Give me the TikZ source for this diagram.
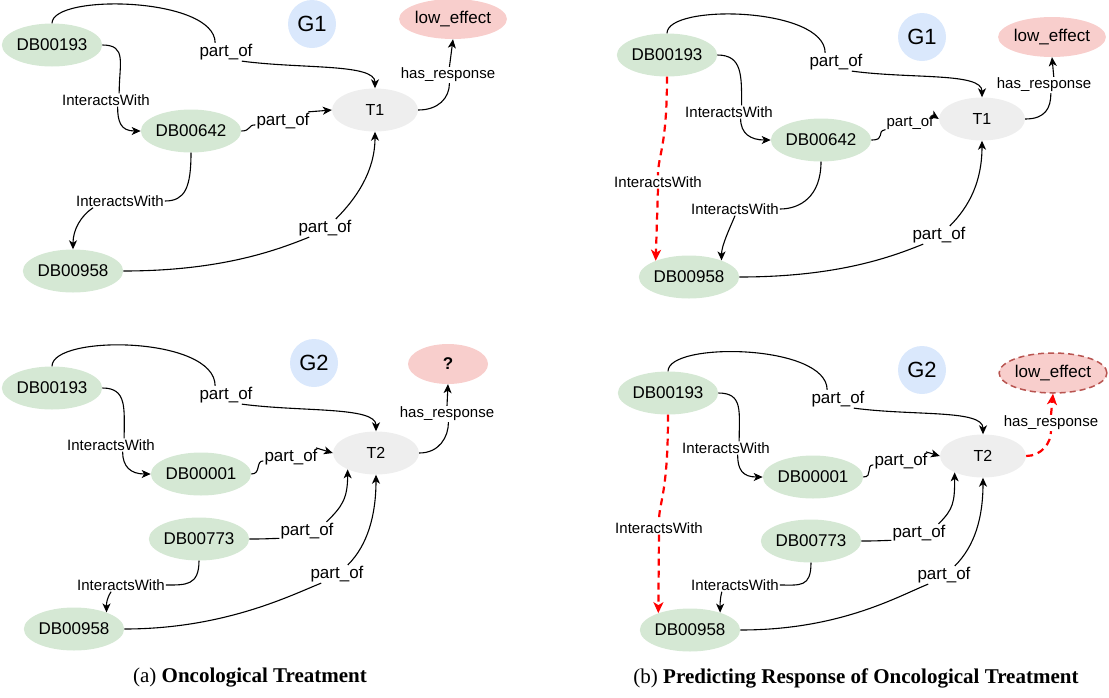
\documentclass[tikz,border=0pt]{standalone}
\usepackage{fontspec}
\setmainfont{Liberation Serif}
\setsansfont{Liberation Sans}
\usetikzlibrary{shapes.geometric,arrows.meta}
\definecolor{drugfill}{HTML}{D5E8D4}
\definecolor{treatfill}{HTML}{EEEEEE}
\definecolor{graphfill}{HTML}{DAE8FC}
\definecolor{respfill}{HTML}{F8CECC}
\definecolor{respline}{HTML}{B85450}
\definecolor{predred}{HTML}{FF0000}
\tikzset{
 drug/.style={ellipse,fill=drugfill,minimum width=86pt,minimum height=43pt,inner sep=0pt,font=\sffamily\fontsize{17}{20}\selectfont},
 treat/.style={ellipse,fill=treatfill,minimum width=86pt,minimum height=43pt,inner sep=0pt,font=\sffamily\fontsize{16}{19}\selectfont},
 gid/.style={circle,fill=graphfill,minimum size=48pt,inner sep=0pt,font=\sffamily\fontsize{22}{26}\selectfont},
 resp/.style={ellipse,fill=respfill,minimum width=80pt,minimum height=40pt,inner sep=0pt,font=\sffamily\fontsize{17}{20}\selectfont},
 bigrel/.style={fill=white,inner sep=1pt,font=\sffamily\fontsize{17}{20}\selectfont},
 smallrel/.style={fill=white,inner sep=1pt,font=\sffamily\fontsize{15}{18}\selectfont},
 relline/.style={line width=1.1pt},
 relarrow/.style={relline,-{Stealth[length=9pt,width=8pt,inset=2.5pt]}},
 predline/.style={predred,line width=2.2pt,dash pattern=on 7pt off 5pt},
 predarrow/.style={predline,-{Stealth[length=11pt,width=10pt,inset=3pt]}},
 subcap/.style={font=\fontsize{21}{25}\selectfont}
}
\begin{document}
\begin{tikzpicture}[x=1pt,y=-1pt]
\useasboundingbox (0,0) rectangle (1109,697);

\node[drug] (ta193) at (52,45) {DB00193};
\node[gid] (taG) at (312,24) {G1};
\node[resp] (taresp) at (453,19) {low\_effect};
\node[treat] (taT) at (375,110) {T1};
\node[drug] (ta642) at (191,131) {DB00642};
\node[drug] (ta958) at (73,271) {DB00958};
\node[bigrel] (tap1) at (226,52) {part\_of};
\node[smallrel] (taia1) at (106,100) {InteractsWith};
\node[bigrel] (tap2) at (283,121) {part\_of};
\node[smallrel] (taia2) at (120,201) {InteractsWith};
\node[bigrel] (tap3) at (325,228) {part\_of};
\node[smallrel] (tahr) at (448,75) {has\_response};
\draw[relline] (ta193.north) .. controls +(0,-30) and +(0,-46) .. (tap1.140);
\draw[relarrow] (tap1.-30) .. controls +(60,8) and +(0,-25) .. (taT.north);
\draw[relline] (ta193.east) .. controls +(25,0) and +(0,-30) .. (taia1.27);
\draw[relarrow] (taia1.-30) .. controls +(0,15) and +(-20,0) .. (ta642.west);
\draw[relline] (ta642.east) .. controls +(10,0) and +(-8,0) .. (tap2.-172);
\draw[relarrow] (tap2.20) -- (taT.west);
\draw[relline] (ta642.south) .. controls +(0,35) and +(20,0) .. (taia2.east);
\draw[relarrow] (taia2.-166) .. controls +(-12,8) and +(0,-20) .. (ta958.north);
\draw[relline] (ta958.east) .. controls +(100,0) and +(-30,12) .. (tap3.-150);
\draw[relarrow] (tap3.40) .. controls +(20,-20) and +(0,40) .. (taT.south);
\draw[relline] (taT.east) .. controls +(20,0) and +(0,15) .. (tahr.-80);
\draw[relarrow] (tahr.80) -- (taresp.south);

\node[drug] (ba193) at (52,388) {DB00193};
\node[gid] (baG) at (314,363) {G2};
\node[resp,font=\sffamily\bfseries\fontsize{17}{20}\selectfont] (baresp) at (448,364) {?};
\node[treat] (baT) at (376,453) {T2};
\node[drug] (ba001) at (201,474) {DB00001};
\node[drug] (ba773) at (199,539) {DB00773};
\node[drug] (ba958) at (74,629) {DB00958};
\node[bigrel] (bap1) at (226,395) {part\_of};
\node[smallrel] (baia1) at (111,445) {InteractsWith};
\node[bigrel] (bap2) at (291,457) {part\_of};
\node[bigrel] (bap3) at (307,531) {part\_of};
\node[smallrel] (baia2) at (121,585) {InteractsWith};
\node[bigrel] (bap4) at (337,574) {part\_of};
\node[smallrel] (bahr) at (447,414) {has\_response};
\draw[relline] (ba193.north) .. controls +(0,-32) and +(0,-50) .. (bap1.140);
\draw[relarrow] (bap1.-30) .. controls +(60,8) and +(0,-25) .. (baT.north);
\draw[relline] (ba193.east) .. controls +(25,0) and +(0,-30) .. (baia1.27);
\draw[relarrow] (baia1.-30) .. controls +(0,15) and +(-20,0) .. (ba001.west);
\draw[relline] (ba001.east) .. controls +(10,0) and +(-8,0) .. (bap2.-172);
\draw[relarrow] (bap2.20) -- (baT.west);
\draw[relline] (ba773.east) .. controls +(20,0) and +(-10,0) .. (bap3.-165);
\draw[relarrow] (bap3.25) .. controls +(15,-15) and +(0,30) .. (baT.-150);
\draw[relline] (ba773.south) .. controls +(0,25) and +(20,0) .. (baia2.east);
\draw[relarrow] (baia2.-146) .. controls +(-5,8) and +(0,-8) .. (ba958.27);
\draw[relline] (ba958.east) .. controls +(100,0) and +(-30,12) .. (bap4.-150);
\draw[relarrow] (bap4.40) .. controls +(20,-20) and +(0,40) .. (baT.south);
\draw[relline] (baT.east) .. controls +(20,0) and +(0,15) .. (bahr.-80);
\draw[relarrow] (bahr.north) -- (baresp.south);

\node[drug] (tb193) at (667,55) {DB00193};
\node[gid] (tbG) at (922,37) {G1};
\node[resp] (tbresp) at (1052,37) {low\_effect};
\node[treat] (tbT) at (982,119) {T1};
\node[drug] (tb642) at (821,140) {DB00642};
\node[drug] (tb958) at (689,277) {DB00958};
\node[bigrel] (tbp1) at (836,62) {part\_of};
\node[smallrel] (tbia1) at (729,112) {InteractsWith};
\node[smallrel] (tbp2) at (910,123) {part\_of};
\node[smallrel] (tbia2) at (735,209) {InteractsWith};
\node[smallrel] (tbia3) at (658,182) {InteractsWith};
\node[bigrel] (tbp3) at (939,235) {part\_of};
\node[smallrel] (tbhr) at (1044,85) {has\_response};
\draw[relline] (tb193.north) .. controls +(0,-30) and +(0,-46) .. (tbp1.140);
\draw[relarrow] (tbp1.-30) .. controls +(60,8) and +(0,-25) .. (tbT.north);
\draw[relline] (tb193.east) .. controls +(25,0) and +(0,-30) .. (tbia1.28);
\draw[relarrow] (tbia1.-30) .. controls +(0,15) and +(-20,0) .. (tb642.west);
\draw[relline] (tb642.east) .. controls +(15,0) and +(-10,2) .. (tbp2.-165);
\draw[relarrow] (tbp2.20) -- (tbT.west);
\draw[relline] (tb642.south) .. controls +(0,35) and +(20,0) .. (tbia2.east);
\draw[relarrow] (tbia2.south) .. controls +(-5,12) and +(0,-15) .. (tb958.27);
\draw[predline] (tb193.south) .. controls +(0,70) and +(0,-20) .. (tbia3.north);
\draw[predarrow] (tbia3.south) -- (tb958.154);
\draw[relline] (tb958.east) .. controls +(100,0) and +(-30,12) .. (tbp3.-150);
\draw[relarrow] (tbp3.40) .. controls +(20,-20) and +(0,40) .. (tbT.south);
\draw[relline] (tbT.east) .. controls +(20,0) and +(0,15) .. (tbhr.-50);
\draw[relarrow] (tbhr.40) -- (tbresp.south);

\node[drug] (bb193) at (668,393) {DB00193};
\node[gid] (bbG) at (922,370) {G2};
\node[resp,draw=respline,line width=1.5pt,dash pattern=on 6pt off 4pt] (bbresp) at (1053,373) {low\_effect};
\node[treat] (bbT) at (983,456) {T2};
\node[drug] (bb001) at (813,477) {DB00001};
\node[drug] (bb773) at (811,541) {DB00773};
\node[drug] (bb958) at (690,630) {DB00958};
\node[bigrel] (bbp1) at (838,399) {part\_of};
\node[smallrel] (bbia1) at (726,448) {InteractsWith};
\node[bigrel] (bbp2) at (901,461) {part\_of};
\node[bigrel] (bbp3) at (919,533) {part\_of};
\node[smallrel] (bbia2) at (735,585) {InteractsWith};
\node[smallrel] (bbia3) at (659,528) {InteractsWith};
\node[bigrel] (bbp4) at (944,575) {part\_of};
\node[smallrel] (bbhr) at (1051,423) {has\_response};
\draw[relline] (bb193.north) .. controls +(0,-30) and +(0,-46) .. (bbp1.140);
\draw[relarrow] (bbp1.-30) .. controls +(60,8) and +(0,-25) .. (bbT.north);
\draw[relline] (bb193.east) .. controls +(25,0) and +(0,-30) .. (bbia1.27);
\draw[relarrow] (bbia1.-30) .. controls +(0,15) and +(-20,0) .. (bb001.west);
\draw[relline] (bb001.east) .. controls +(10,0) and +(-8,0) .. (bbp2.-172);
\draw[relarrow] (bbp2.20) -- (bbT.west);
\draw[relline] (bb773.east) .. controls +(20,0) and +(-10,0) .. (bbp3.-165);
\draw[relarrow] (bbp3.25) .. controls +(15,-15) and +(0,30) .. (bbT.-150);
\draw[relline] (bb773.south) .. controls +(0,25) and +(20,0) .. (bbia2.east);
\draw[relarrow] (bbia2.-153) .. controls +(-2,8) and +(0,-8) .. (bb958.30);
\draw[predline] (bb193.south) .. controls +(0,80) and +(0,-20) .. (bbia3.north);
\draw[predarrow] (bbia3.south) -- (bb958.152);
\draw[relline] (bb958.east) .. controls +(100,0) and +(-30,12) .. (bbp4.-150);
\draw[relarrow] (bbp4.40) .. controls +(20,-20) and +(0,40) .. (bbT.south);
\draw[predline] (bbT.east) .. controls +(15,0) and +(0,12) .. (bbhr.south);
\draw[predarrow] (bbhr.north) -- (bbresp.south);

\node[subcap] (capa) at (250,678) {(a) \textbf{Oncological Treatment}};
\node[subcap] (capb) at (856,678) {(b) \textbf{Predicting Response of Oncological Treatment}};
\end{tikzpicture}
\end{document}
